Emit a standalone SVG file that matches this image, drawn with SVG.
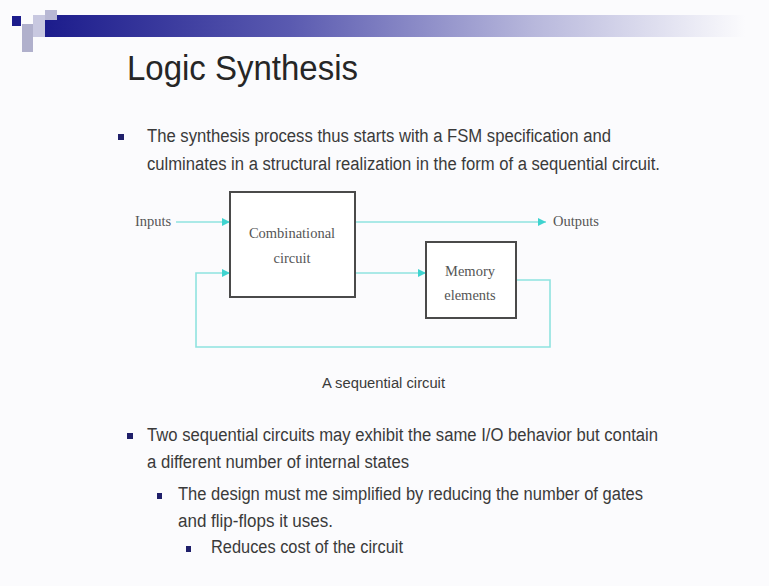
<svg xmlns="http://www.w3.org/2000/svg" width="769" height="586" viewBox="0 0 769 586">
  <defs>
    <linearGradient id="barGrad" x1="0" y1="0" x2="1" y2="0">
      <stop offset="0" stop-color="#1c1c8c"/>
      <stop offset="0.35" stop-color="#5a5ab0"/>
      <stop offset="0.7" stop-color="#b8b8dc"/>
      <stop offset="1" stop-color="#fbfbfd"/>
    </linearGradient>
    <marker id="arrow" viewBox="0 0 10 10" refX="10" refY="5" markerWidth="8" markerHeight="8" markerUnits="userSpaceOnUse" orient="auto">
      <path d="M0,0 L10,5 L0,10 Z" fill="#3fd3cf"/>
    </marker>
    <style>
      .body { font-family: "Liberation Sans", Arial, sans-serif; font-size: 18px; fill: #3a3a3a; }
      .caption { font-family: "Liberation Sans", Arial, sans-serif; font-size: 14px; fill: #3a3a3a; }
      .title { font-family: "Liberation Sans", Arial, sans-serif; font-size: 35px; fill: #262626; }
      .serif { font-family: "Liberation Serif", "Times New Roman", serif; font-size: 14.5px; fill: #555; }
      .box { fill: #ffffff; stroke: #4a4a4a; stroke-width: 2; }
      .wire { fill: none; stroke: #8fe3df; stroke-width: 1.6; }
      .bullet { fill: #1f1f6a; }
    </style>
  </defs>

  <rect x="0" y="0" width="769" height="586" fill="#fbfbfd"/>

  <!-- header bar with corner squares -->
  <rect x="45" y="15" width="700" height="22" fill="url(#barGrad)"/>
  <rect x="12" y="16" width="9" height="10" fill="#1c1c8c"/>
  <rect x="22" y="24" width="11" height="28" fill="#b0b0cc"/>
  <rect x="33" y="15" width="12" height="22" fill="#c8c8e0"/>
  <rect x="45" y="10" width="12" height="10" fill="#b8b8d4"/>

  <text class="title" x="127" y="80" textLength="231" lengthAdjust="spacingAndGlyphs">Logic Synthesis</text>

  <!-- first bullet -->
  <rect class="bullet" x="118" y="134" width="6" height="6"/>
  <text class="body" x="147" y="142" textLength="464" lengthAdjust="spacingAndGlyphs">The synthesis process thus starts with a FSM specification and</text>
  <text class="body" x="147" y="170" textLength="513" lengthAdjust="spacingAndGlyphs">culminates in a structural realization in the form of a sequential circuit.</text>

  <!-- connectors -->
  <g id="connectors">
    <line class="wire" x1="176" y1="222" x2="230" y2="222" marker-end="url(#arrow)"/>
    <line class="wire" x1="355" y1="222" x2="546" y2="222" marker-end="url(#arrow)"/>
    <line class="wire" x1="355" y1="273" x2="426" y2="273" marker-end="url(#arrow)"/>
    <polyline class="wire" points="516,280 550,280 550,347 196,347 196,273 230,273" marker-end="url(#arrow)"/>
  </g>

  <g id="combinational">
    <rect class="box" x="230" y="192" width="125" height="105"/>
    <text class="serif" x="292" y="238" text-anchor="middle">Combinational</text>
    <text class="serif" x="292" y="263" text-anchor="middle">circuit</text>
  </g>

  <g id="memory">
    <rect class="box" x="426" y="242" width="90" height="76"/>
    <text class="serif" x="470" y="276" text-anchor="middle">Memory</text>
    <text class="serif" x="470" y="300" text-anchor="middle">elements</text>
  </g>

  <g id="inputs">
    <text class="serif" x="135" y="226">Inputs</text>
  </g>
  <g id="outputs">
    <text class="serif" x="553" y="226">Outputs</text>
  </g>

  <text class="caption" x="322" y="388" textLength="123" lengthAdjust="spacingAndGlyphs">A sequential circuit</text>

  <!-- second bullet -->
  <rect class="bullet" x="127" y="433" width="6" height="6"/>
  <text class="body" x="147" y="441" textLength="511" lengthAdjust="spacingAndGlyphs">Two sequential circuits may exhibit the same I/O behavior but contain</text>
  <text class="body" x="147" y="468" textLength="262" lengthAdjust="spacingAndGlyphs">a different number of internal states</text>

  <rect class="bullet" x="157" y="493" width="5" height="6"/>
  <text class="body" x="178" y="500" textLength="465" lengthAdjust="spacingAndGlyphs">The design must me simplified by reducing the number of gates</text>
  <text class="body" x="178" y="527" textLength="155" lengthAdjust="spacingAndGlyphs">and flip-flops it uses.</text>

  <rect class="bullet" x="186" y="546" width="5" height="6"/>
  <text class="body" x="211" y="553" textLength="192" lengthAdjust="spacingAndGlyphs">Reduces cost of the circuit</text>
</svg>
